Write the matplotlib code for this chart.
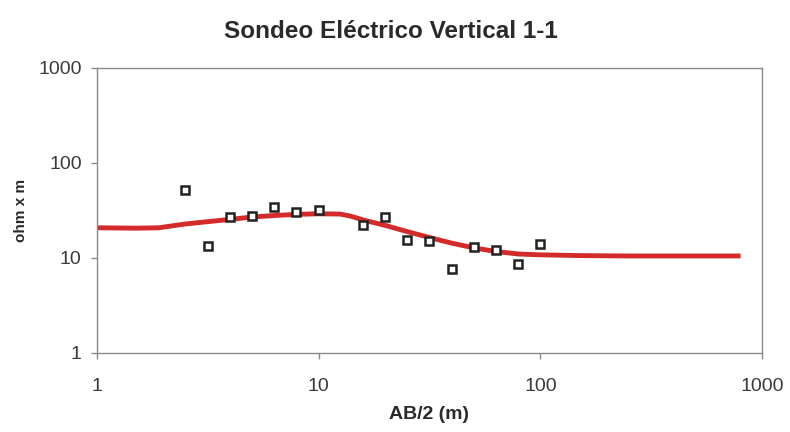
import matplotlib.pyplot as plt
from matplotlib.ticker import FixedLocator, NullLocator

plt.rcParams['font.family'] = ['Liberation Sans', 'DejaVu Sans']

# measured points (AB/2 in m, apparent resistivity in ohm x m)
ab2 = [2.5, 3.16, 3.98, 5.0, 6.3, 7.9, 10.0, 15.8, 20.0, 25.0, 31.6, 40.0, 50.0, 63.0, 79.0, 100.0]
rho = [52, 13.3, 27.2, 27.6, 34.5, 30.5, 32, 22.3, 27, 15.6, 15, 7.7, 13.1, 12.1, 8.6, 14.2]

# fitted model curve
curve_ab2 = [1, 1.5, 1.9, 2.5, 3.2, 4, 5, 6.3, 8, 10, 12.5, 14, 16, 20, 25, 32, 40, 50, 63, 80,
             100, 150, 250, 500, 800]
curve_rho = [20.8, 20.6, 20.8, 22.8, 24.2, 25.5, 27, 28, 28.8, 29.2, 29, 27.5, 25, 22, 19, 16.3,
             14.3, 12.8, 11.7, 11, 10.8, 10.6, 10.5, 10.5, 10.5]

ticks = [1, 10, 100, 1000]
tick_labels = ['1', '10', '100', '1000']

fig = plt.figure(figsize=(7.9, 4.32), dpi=100)
ax = fig.add_axes([0.1228, 0.1829, 0.8418, 0.6597])

ax.plot(curve_ab2, curve_rho, color='#d42a2a', linewidth=3.5, solid_capstyle='butt', zorder=2)
ax.plot(ab2, rho, linestyle='none', marker='s', markersize=6.3, markerfacecolor='white',
        markeredgecolor='#222222', markeredgewidth=1.8, zorder=3)

ax.set_xscale('log')
ax.set_yscale('log')
ax.set_xlim(1, 1000)
ax.set_ylim(1, 1000)
ax.xaxis.set_major_locator(FixedLocator(ticks))
ax.yaxis.set_major_locator(FixedLocator(ticks))
ax.xaxis.set_minor_locator(NullLocator())
ax.yaxis.set_minor_locator(NullLocator())
ax.set_xticklabels(tick_labels)
ax.set_yticklabels(tick_labels)

for s in ax.spines.values():
    s.set_color('#8a8a8a')
    s.set_linewidth(1.0)
ax.tick_params(axis='both', direction='out', length=4, width=1, color='#8a8a8a',
               labelsize=14, labelcolor='#3a3a3a')
ax.tick_params(axis='x', pad=14)
ax.tick_params(axis='y', pad=7)

fig.text(0.495, 0.912, 'Sondeo Eléctrico Vertical 1-1', ha='center', va='baseline',
         fontsize=17.5, fontweight='bold', color='#2a2a2a')
fig.text(0.543, 0.03, 'AB/2 (m)', ha='center', va='baseline',
         fontsize=14, fontweight='bold', color='#2a2a2a')
fig.text(0.026, 0.513, 'ohm x m', ha='center', va='center', rotation=90,
         fontsize=11, fontweight='bold', color='#2a2a2a')

fig.savefig('out.png', dpi=100, facecolor='white')
